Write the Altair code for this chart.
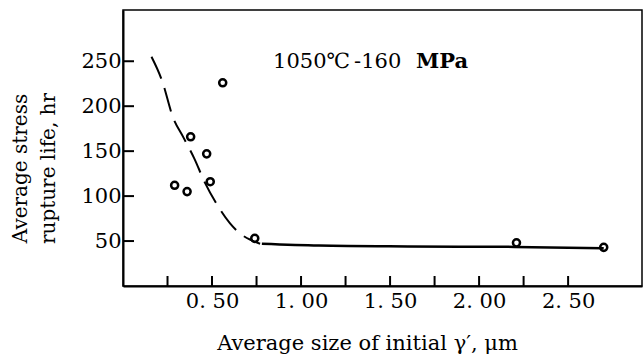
import altair as alt
import pandas as pd

# scatter data: average gamma' size (um) vs stress rupture life (hr)
pt_x = [0.29, 0.36, 0.38, 0.47, 0.49, 0.56, 0.74, 2.21, 2.70]
pt_y = [112, 105, 166, 147, 116, 226, 53, 48, 43]

# dashed trend curve
dash_x = [0.16, 0.22, 0.28, 0.34, 0.40, 0.46, 0.53, 0.60, 0.66, 0.72, 0.77]
dash_y = [255, 228, 188, 165, 142, 115, 90, 70, 58, 51, 47]

# solid trend line
solid_x = [0.78, 1.10, 1.60, 2.20, 2.70]
solid_y = [47, 45, 44, 43.5, 42]

x_ticks = [0.25, 0.5, 0.75, 1.0, 1.25, 1.5, 1.75, 2.0, 2.25, 2.5]
x_labels = [0.5, 1.0, 1.5, 2.0, 2.5]
y_ticks = [50, 100, 150, 200, 250]

# condition annotation pieces
ann_text = ["1050\u2103", "-160", "MPa"]
ann_x = [0.843, 1.298, 1.646]
ann_y = [249, 249, 249]
ann_bold = [False, False, True]

FONT = "DejaVu Serif"
XDOM = [0, 2.915]
YDOM = [0, 307]
W, H = 519, 276

xs = alt.Scale(domain=XDOM, nice=False, zero=False)
ys = alt.Scale(domain=YDOM, nice=False, zero=False)

pts = pd.DataFrame({"x": pt_x, "y": pt_y})
dash = pd.DataFrame({"x": dash_x, "y": dash_y})
solid = pd.DataFrame({"x": solid_x, "y": solid_y})
xt = pd.DataFrame({"x": x_ticks})
yt = pd.DataFrame({"y": y_ticks})
ann = pd.DataFrame({"x": ann_x, "y": ann_y, "t": ann_text, "b": ann_bold})

x_axis = alt.Axis(
    values=x_labels, labelExpr="replace(format(datum.value, '.2f'), '.', '. ')",
    ticks=False, tickSize=0, grid=False, domainColor="black", domainWidth=2,
    labelFont=FONT, labelFontSize=21, labelColor="black", labelBaseline="middle",
    labelPadding=15, labelFlush=False,
    title="Average size of initial \u03b3\u2032, \u03bcm", titleFont=FONT, titleFontSize=21,
    titleFontWeight="normal", titleColor="black", titleX=244, titleY=57,
    titleBaseline="middle", titleAnchor="middle", titleAlign="center",
)
y_axis = alt.Axis(
    values=y_ticks, ticks=False, tickSize=0, grid=False, domainColor="black",
    domainWidth=2, labelFont=FONT, labelFontSize=21, labelColor="black",
    labelPadding=2, labelFlush=False,
    title=["Average stress", "rupture life, hr"], titleFont=FONT, titleFontSize=20,
    titleFontWeight="normal", titleColor="black", titleAngle=-90, titleX=-103,
    titleY=158, titleBaseline="middle", titleAlign="center", titleLineHeight=28,
)

base_pts = alt.Chart(pts).mark_point(
    shape="circle", filled=False, color="black", size=50, strokeWidth=2.5, opacity=1
).encode(x=alt.X("x:Q", scale=xs, axis=x_axis), y=alt.Y("y:Q", scale=ys, axis=y_axis))

dash_line = alt.Chart(dash).mark_line(
    color="black", strokeWidth=2, strokeDash=[24, 10], interpolate="monotone"
).encode(x=alt.X("x:Q", scale=xs), y=alt.Y("y:Q", scale=ys))

solid_line = alt.Chart(solid).mark_line(
    color="black", strokeWidth=2.5, interpolate="monotone"
).encode(x=alt.X("x:Q", scale=xs), y=alt.Y("y:Q", scale=ys))

x_tick_marks = alt.Chart(xt).mark_rule(color="black", strokeWidth=2).encode(
    x=alt.X("x:Q", scale=xs), y=alt.value(H), y2=alt.value(H - 10)
)
y_tick_marks = alt.Chart(yt).mark_rule(color="black", strokeWidth=2).encode(
    y=alt.Y("y:Q", scale=ys), x=alt.value(0), x2=alt.value(11)
)

ann_base = alt.Chart(ann).encode(
    x=alt.X("x:Q", scale=xs), y=alt.Y("y:Q", scale=ys), text="t:N"
)
ann_normal = ann_base.transform_filter("!datum.b").mark_text(
    font=FONT, fontSize=21, align="left", baseline="middle", color="black"
)
ann_boldm = ann_base.transform_filter("datum.b").mark_text(
    font=FONT, fontSize=21, fontWeight="bold", align="left", baseline="middle", color="black"
)

chart = alt.layer(
    base_pts, dash_line, solid_line, x_tick_marks, y_tick_marks, ann_normal, ann_boldm
).properties(
    width=W, height=H,
    autosize=alt.AutoSizeParams(type="none"),
    padding={"left": 123, "top": 10, "right": 1, "bottom": 72},
    background="white",
).configure_view(
    stroke="black", strokeWidth=1.5
)

chart.save("out.html", embed_options={"renderer": "svg", "actions": False})
